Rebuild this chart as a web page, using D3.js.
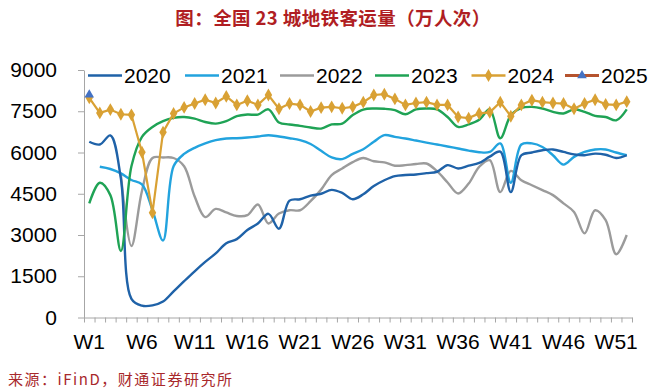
<!DOCTYPE html>
<html><head><meta charset="utf-8">
<script src="https://cdn.jsdelivr.net/npm/d3@7"></script>
<style>
html,body{margin:0;padding:0;background:#fff;}
svg{display:block;font-family:"Liberation Sans",Arial,sans-serif;}
</style></head>
<body>
<svg id="chart" width="660" height="392"></svg>
<script>
const weeks = d3.range(1, 53).map(i => "W" + i);
const tickLabels = ["W1","W6","W11","W16","W21","W26","W31","W36","W41","W46","W51"];
const yTicks = [0,1500,3000,4500,6000,7500,9000];
const seriesNames = ["2020","2021","2022","2023","2024","2025"];

const s2020 = [6390,6290,6620,5050,680,430,440,580,950,1320,1680,2020,2330,2700,2850,3180,3420,3770,3230,4250,4300,4430,4500,4640,4530,4300,4480,4780,4990,5140,5180,5200,5250,5300,5540,5420,5520,5620,5850,6030,4560,5900,6000,6080,6110,6020,5930,5900,5960,5920,5800,5900];
const s2021 = [null,5480,5400,5240,5000,4840,3900,2800,5500,5950,6170,6330,6450,6510,6520,6545,6580,6630,6580,6520,6450,6310,6060,5820,5760,5950,6120,6390,6630,6570,6510,6435,6360,6290,6220,6145,6070,6010,6020,6330,4900,6290,6330,6200,5900,5560,5840,6020,6110,6110,6000,5900];
const s2022 = [null,null,null,5200,2600,4600,5800,5820,5800,5500,4400,3650,3950,3820,3690,3720,4110,3420,3780,3900,3900,4230,4650,5180,5420,5650,5800,5680,5640,5520,5540,5580,5600,5320,4910,4510,4870,5480,5720,4560,5330,4990,4810,4630,4450,4150,3840,3060,3900,3540,2300,3000];
const s2023 = [4150,4900,4450,2420,5500,6570,6930,7140,7260,7290,7230,7110,7050,7140,7320,7380,7380,7570,7090,7020,6970,6910,6870,7020,7050,7360,7560,7600,7590,7540,7390,7570,7600,7570,7290,6930,7020,7190,7570,6520,7350,7620,7660,7600,7480,7420,7570,7480,7330,7290,7170,7570];
const s2024 = [7990,7440,7560,7390,7370,6010,3810,6740,7420,7640,7780,7920,7800,8040,7730,7880,7730,8090,7590,7780,7730,7490,7630,7660,7610,7660,7830,8090,8120,7950,7730,7800,7830,7730,7730,7290,7250,7420,7460,7830,7320,7730,7900,7830,7800,7780,7590,7780,7920,7750,7730,7850];
const s2025 = [8100];

const colors = {"2020":"#1F62A8","2021":"#22A3DE","2022":"#9B9B9B","2023":"#1FA355","2024":"#D9A134","2025":"#B5532E"};

const svg = d3.select("#chart");
const plotLeft = 84, plotRight = 632, plotTop = 70, plotBottom = 317.5;

const x = d3.scaleBand().domain(weeks).range([plotLeft, plotRight]).padding(0);
const xb = d3.scaleLinear().domain([0, 52]).range([plotLeft, plotRight]);
const y = d3.scaleLinear().domain([0, 9000]).range([plotBottom, plotTop]);
const cx = w => x(w) + x.bandwidth() / 2;

// Title
svg.append("text").attr("x", 333).attr("y", 17).attr("text-anchor", "middle")
  .attr("dominant-baseline", "central")
  .style("font-family", "'Noto Sans CJK SC',sans-serif").style("font-weight", "700")
  .style("font-size", "18.5px").style("letter-spacing", "0.4px").attr("fill", "#B01E23")
  .text("图：全国 23 城地铁客运量（万人次）");

// Y axis
const yAxis = svg.append("g").attr("transform", `translate(${plotLeft},0)`)
  .call(d3.axisLeft(y).tickValues(yTicks).tickFormat(d3.format("d")).tickSize(6).tickSizeOuter(0).tickPadding(21));
yAxis.selectAll("path,line").attr("stroke", "#A6A6A6");
yAxis.selectAll("text").style("font-size", "21px").attr("fill", "#000").style("font-family", "'Liberation Sans',Arial,sans-serif");

// X axis boundary ticks
const xTickAxis = svg.append("g").attr("transform", `translate(0,${plotBottom})`)
  .call(d3.axisBottom(xb).tickValues(d3.range(53)).tickFormat("").tickSize(5).tickSizeOuter(0));
xTickAxis.selectAll("path,line").attr("stroke", "#A6A6A6");
// X labels
const xLab = svg.append("g").attr("transform", `translate(0,${plotBottom})`)
  .call(d3.axisBottom(x).tickValues(tickLabels).tickSize(0).tickPadding(17));
xLab.select("path").remove();
xLab.selectAll("text").style("font-size", "21px").attr("fill", "#000").style("font-family", "'Liberation Sans',Arial,sans-serif");

// Lines
const data = {"2020": s2020, "2021": s2021, "2022": s2022, "2023": s2023};
const smooth = d3.line().defined(d => d.v != null).x(d => cx(d.w)).y(d => y(d.v)).curve(d3.curveCatmullRom.alpha(0.5));
["2022","2021","2020","2023"].forEach(k => {
  const pts = weeks.map((w, i) => ({w, v: data[k][i]}));
  svg.append("path").attr("d", smooth(pts)).attr("fill", "none")
    .attr("stroke", colors[k]).attr("stroke-width", 2.4).attr("stroke-linejoin", "round");
});

const straight = d3.line().x(d => cx(d.w)).y(d => y(d.v));
const p24 = weeks.map((w, i) => ({w, v: s2024[i]}));
svg.append("path").attr("d", straight(p24)).attr("fill", "none").attr("stroke", colors["2024"]).attr("stroke-width", 2.2);
const diamond = d3.symbol().type(d3.symbolDiamond).size(48);
svg.append("g").selectAll("path").data(p24).join("path")
  .attr("d", diamond).attr("transform", d => `translate(${cx(d.w)},${y(d.v)})`).attr("fill", colors["2024"]);

const tri = d3.symbol().type(d3.symbolTriangle).size(40);
const p25 = s2025.map((v, i) => ({w: weeks[i], v}));
svg.append("g").selectAll("path").data(p25).join("path")
  .attr("d", tri).attr("transform", d => `translate(${cx(d.w)},${y(d.v)})`).attr("fill", "#4472C4");

// Legend
const legX = [88, 185, 280, 375, 471.5, 565];
const legY = 75.5;
seriesNames.forEach((k, i) => {
  const g = svg.append("g").attr("transform", `translate(${legX[i]},${legY})`);
  g.append("line").attr("x1", 0).attr("x2", 34).attr("y1", 0).attr("y2", 0)
    .attr("stroke", colors[k]).attr("stroke-width", k === "2025" ? 3 : 2.6);
  if (k === "2024") g.append("path").attr("d", diamond).attr("transform", "translate(17,0)").attr("fill", colors[k]);
  if (k === "2025") g.append("path").attr("d", tri).attr("transform", "translate(17,0)").attr("fill", "#4472C4");
  g.append("text").attr("x", 36).attr("y", 0).attr("dy", "0.36em")
    .style("font-size", "21px").attr("fill", "#000").text(k);
});

// Source
svg.append("text").attr("x", 8).attr("y", 378).attr("dominant-baseline", "central")
  .style("font-family", "'Noto Sans CJK SC',sans-serif").style("font-size", "15px")
  .attr("fill", "#A8282B").attr("textLength", 224)
  .text("来源：iFinD，财通证券研究所");
</script>
</body></html>
